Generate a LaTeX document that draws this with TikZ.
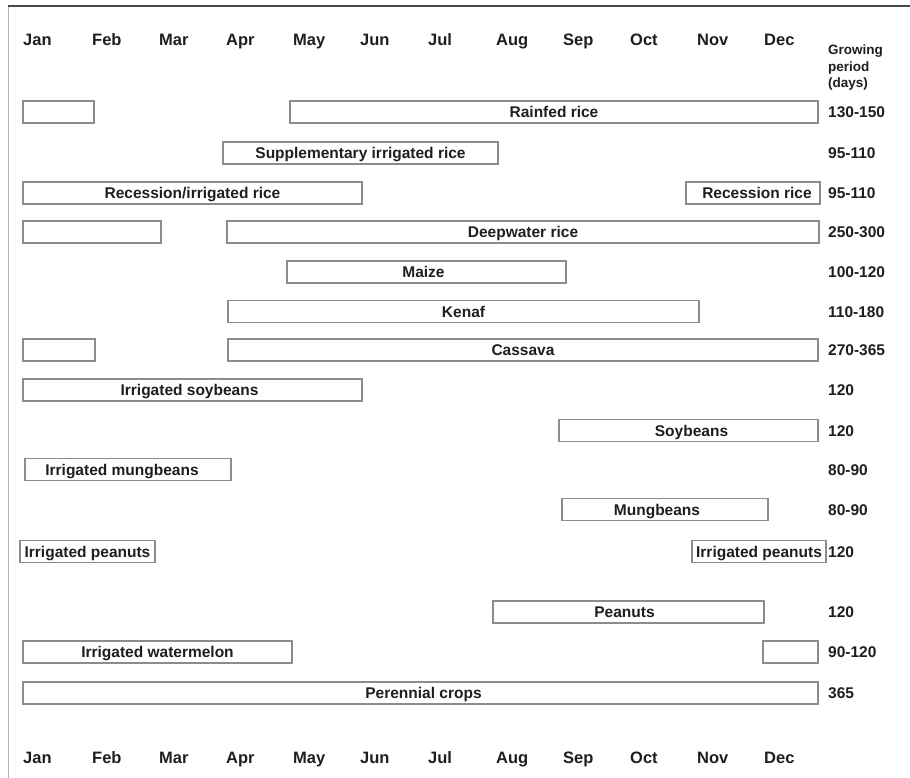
\documentclass[tikz,border=0pt]{standalone}
\usepackage{fontspec}
\setmainfont{Liberation Sans}
\definecolor{ink}{HTML}{1E1E1E}
\definecolor{barline}{HTML}{8C8C8C}
\definecolor{topline}{HTML}{4A4A4A}
\definecolor{sideline}{HTML}{B4B4B4}
\newcommand\barfont{\fontsize{15.5}{18}\selectfont\bfseries}
\newcommand\monthfont{\fontsize{16.5}{19}\selectfont\bfseries}
\newcommand\headfont{\fontsize{13.5}{16.5}\selectfont\bfseries}
% \cropbar{name}{left x}{right x}{centre y}{label}
\newcommand\cropbar[5]{%
  \node[bar, minimum width={#3-#2}] (#1) at ({(#2+#3)/2},#4) {#5};}
\begin{document}
\begin{tikzpicture}[x=1pt,y=-1pt,
  bar/.style={draw=barline, line width=1.4pt, fill=white, inner sep=0pt,
    minimum height=22, text height=11.2pt, text depth=0pt,
    font=\barfont, text=ink},
  month/.style={anchor=base west, font=\monthfont, text=ink, inner sep=0pt},
  days/.style={anchor=base west, font=\barfont, text=ink, inner sep=0pt}]
\useasboundingbox (0,0) rectangle (910,778);

% frame
\draw[line width=2.5pt, topline] (8,6) -- (910,6);
\draw[line width=1pt, sideline] (8,7) -- (8,778);

% month scales, top and bottom
\foreach \m/\x [count=\i] in {Jan/23,Feb/92,Mar/159,Apr/226,May/293,Jun/360,
    Jul/428,Aug/496,Sep/563,Oct/630,Nov/697,Dec/764}{
  \node[month] (top\i) at (\x,46) {\m};
  \node[month] (bot\i) at (\x,763) {\m};
}
\node[anchor=north west, align=left, font=\headfont, text=ink, inner sep=0pt]
  (head) at (828,45) {Growing\\period\\(days)};

% crop calendar bars; the day counts sit on the bar text baseline
\cropbar{rf1}{23}{94}{112}{}
\cropbar{rf2}{290}{818}{112}{Rainfed rice}
\node[days] (d1) at (828,117.6) {130-150};

\cropbar{sup}{223}{498}{153}{Supplementary irrigated rice}
\node[days] (d2) at (828,158.6) {95-110};

\cropbar{rec1}{23}{362}{193}{Recession/irrigated rice}
\cropbar{rec2}{686}{820}{193}{\hspace*{8pt}Recession rice}
\node[days] (d3) at (828,198.6) {95-110};

\cropbar{dw1}{23}{161}{232}{}
\cropbar{dw2}{227}{819}{232}{Deepwater rice}
\node[days] (d4) at (828,237.6) {250-300};

\cropbar{mz}{287}{566}{272}{\hspace*{-6pt}Maize}
\node[days] (d5) at (828,277.6) {100-120};

\cropbar{kf}{228}{699}{311.5}{Kenaf}
\node[days] (d6) at (828,317.1) {110-180};

\cropbar{cs1}{23}{95}{350}{}
\cropbar{cs2}{228}{818}{350}{Cassava}
\node[days] (d7) at (828,355.6) {270-365};

\cropbar{isb}{23}{362}{390}{\hspace*{-6pt}Irrigated soybeans}
\node[days] (d8) at (828,395.6) {120};

\cropbar{sb}{559}{818}{430.5}{\hspace*{6pt}Soybeans}
\node[days] (d9) at (828,436.1) {120};

\cropbar{imb}{25}{231}{469.5}{\hspace*{-12pt}Irrigated mungbeans}
\node[days] (d10) at (828,475.1) {80-90};

\cropbar{mb}{562}{768}{509.5}{\hspace*{-16pt}Mungbeans}
\node[days] (d11) at (828,515.1) {80-90};

\cropbar{ipn1}{20}{155}{551.5}{Irrigated peanuts}
\cropbar{ipn2}{692}{826}{551.5}{Irrigated peanuts}
\node[days] (d12) at (828,557.1) {120};

\cropbar{pn}{493}{764}{612}{\hspace*{-8pt}Peanuts}
\node[days] (d13) at (828,617.6) {120};

\cropbar{wm1}{23}{292}{652}{Irrigated watermelon}
\cropbar{wm2}{763}{818}{652}{}
\node[days] (d14) at (828,657.6) {90-120};

\cropbar{per}{23}{818}{693}{\hspace*{6pt}Perennial crops}
\node[days] (d15) at (828,698.6) {365};
\end{tikzpicture}
\end{document}
